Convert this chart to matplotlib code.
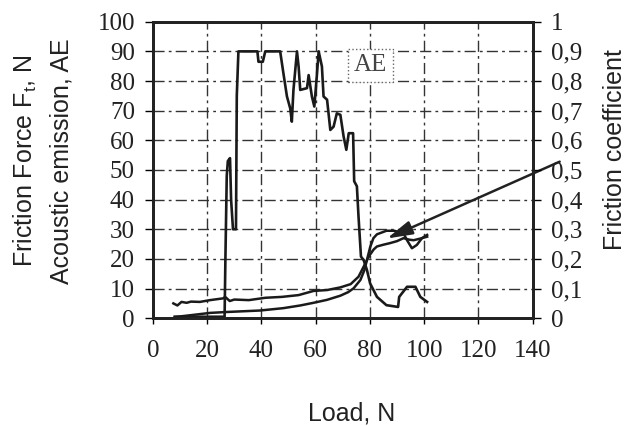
import matplotlib
matplotlib.use("Agg")
import matplotlib.pyplot as plt
from matplotlib.ticker import FixedLocator

# acoustic emission (left axis)
load_ae = [8, 26.4, 26.7, 27.2, 27.6, 28.4, 28.8, 29.5, 30.6, 30.9,
           31.5, 38.5, 38.9, 40.5, 41.4, 46.9, 48.1, 49.4, 50.6, 51.2,
           51.8, 53.1, 53.7, 54.3, 56.8, 57.4, 58.6, 59.5, 60.5, 61.1,
           62.3, 62.9, 64.2, 65.4, 66.6, 67.8, 69.1, 70.3, 71.3, 72.2,
           73.8, 74.2, 75.2, 75.8, 76.7, 77.7, 78.9, 80.1, 82.6, 86.1,
           90.4, 90.8, 93.7, 96.8, 98.6, 101.1]
ae = [0.5, 0.5, 20, 48, 53, 54, 40, 30, 30, 75,
      90, 90, 86.5, 86.5, 90, 90, 82.6, 74.8, 70.8, 66.3,
      77, 90, 84.9, 77, 77.6, 82, 74.8, 71.4, 82.6, 90,
      84.9, 74.8, 73.7, 63.5, 64.6, 69.1, 68.6, 61.3, 56.8, 62.4,
      62.4, 46.2, 44.5, 34.3, 20.8, 19.6, 16.3, 11.7, 7.2, 4.4,
      3.8, 7.2, 10.6, 10.6, 7.2, 5.5]

# friction force Ft (left axis)
load_ft = [7.5, 9, 10.5, 12.4, 14, 17.3, 21, 25.9, 26.6, 28.3,
           30, 35.3, 41.5, 47.6, 53.7, 59.2, 64.2, 69.1, 72.9, 75.8,
           77.7, 78.9, 80.1, 81.3, 82.6, 86.1, 89, 92.4, 93.7, 95.5,
           97.3, 99.2, 101.1]
ft = [5, 4.3, 5.5, 5.2, 5.6, 5.5, 6.1, 6.7, 7.2, 5.8,
      6.3, 6.1, 6.9, 7.2, 7.8, 9.2, 9.5, 10.4, 11.5, 14,
      17.4, 19.6, 24, 27, 28.3, 29.5, 29.5, 28.6, 26.3, 23.6,
      24.7, 27, 28.1]

# friction coefficient (right axis)
load_mu = [8.1, 13.7, 21.1, 27.2, 39.5, 48.1, 54.3, 59.2, 64.2, 69.1,
           72, 74, 76.5, 78, 78.9, 80.1, 81.4, 82.6, 85, 87.3,
           90, 92.4, 94.5, 96.1, 99.2, 101.1]
mu = [0.004, 0.010, 0.018, 0.021, 0.026, 0.034, 0.043, 0.052, 0.062, 0.076,
      0.088, 0.101, 0.129, 0.163, 0.196, 0.215, 0.232, 0.242, 0.248, 0.253,
      0.260, 0.270, 0.265, 0.263, 0.270, 0.275]

x_ticks = [0, 20, 40, 60, 80, 100, 120, 140]
left_ticks = [0, 10, 20, 30, 40, 50, 60, 70, 80, 90, 100]
right_ticks = [0, 0.1, 0.2, 0.3, 0.4, 0.5, 0.6, 0.7, 0.8, 0.9, 1]
right_labels = ["0", "0,1", "0,2", "0,3", "0,4", "0,5", "0,6", "0,7", "0,8", "0,9", "1"]

plt.rcParams["mathtext.fontset"] = "custom"
plt.rcParams["mathtext.rm"] = "Liberation Sans"
plt.rcParams["mathtext.it"] = "Liberation Sans"

serif = "Liberation Serif"
sans = "Liberation Sans"

fig = plt.figure(figsize=(6.31, 4.26), dpi=100)
ax = fig.add_axes([0.2425, 0.253, 0.6015, 0.696])
ax2 = ax.twinx()

ax.plot(load_ae, ae, color="#1a1a1a", lw=1.9)
ax.plot(load_ft, ft, color="#1a1a1a", lw=1.8)
ax2.plot(load_mu, mu, color="#1a1a1a", lw=1.8)

ax.set_xlim(0, 140)
ax.set_ylim(0, 100)
ax2.set_ylim(0, 1)

ax.xaxis.set_major_locator(FixedLocator(x_ticks))
ax.yaxis.set_major_locator(FixedLocator(left_ticks))
ax2.yaxis.set_major_locator(FixedLocator(right_ticks))
ax2.set_yticklabels(right_labels)

for t in ax.get_xticklabels() + ax.get_yticklabels() + ax2.get_yticklabels():
    t.set_fontfamily(serif)
    t.set_fontsize(18)
    t.set_color("#222222")

ax.tick_params(axis="x", direction="out", length=4, width=1, pad=12)
ax.tick_params(axis="y", direction="out", length=6, width=1, pad=7)
ax2.tick_params(axis="y", direction="out", length=6, width=1, pad=7)

ax.grid(True, color="#333333", lw=1, dashes=(8, 3, 2, 3))
for a in (ax, ax2):
    for s in a.spines.values():
        s.set_linewidth(2)
        s.set_color("#222222")

ax.text(80.2, 85.4, "AE", fontfamily=serif, fontsize=18, color="#444444",
        ha="center", va="center",
        bbox=dict(boxstyle="square,pad=0.22", fc="white", ec="#666666", ls=":", lw=1))

ax.annotate("", xy=(86.3, 26.9), xytext=(150, 52.8), xycoords="data",
            textcoords="data", annotation_clip=False,
            arrowprops=dict(arrowstyle="-|>,head_length=1.1,head_width=0.3",
                            color="#222222", lw=1.8, mutation_scale=14,
                            shrinkA=0, shrinkB=0))

fig.text(25 / 631, 1 - 161 / 426, "Friction Force F$_t$, N", rotation=90,
         ha="center", va="center", fontfamily=sans, fontsize=18, color="#222222")
fig.text(62 / 631, 1 - 161 / 426, "Acoustic emission, AE", rotation=90,
         ha="center", va="center", fontfamily=sans, fontsize=18, color="#222222")
fig.text(615 / 631, 1 - 150 / 426, "Friction coefficient", rotation=90,
         ha="center", va="center", fontfamily=sans, fontsize=18, color="#222222")
fig.text(352 / 631, 1 - 413 / 426, "Load, N", ha="center", va="center",
         fontfamily=sans, fontsize=18, color="#222222")

fig.savefig("out.png", dpi=100)
